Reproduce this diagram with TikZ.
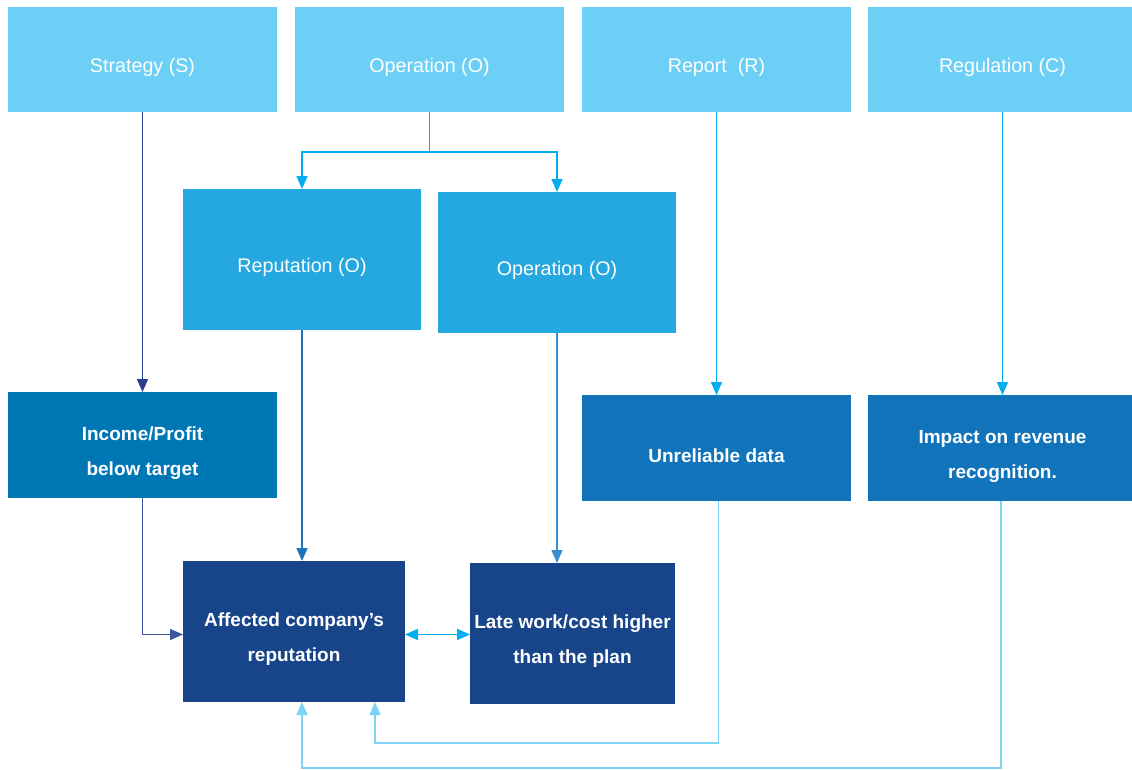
\documentclass[tikz,border=0pt]{standalone}
\usepackage{fontspec}
\setmainfont{Liberation Sans}
\usetikzlibrary{arrows.meta}
\definecolor{ctop}{HTML}{6CCFF6}
\definecolor{cmid}{HTML}{25A8E0}
\definecolor{cinc}{HTML}{0077B5}
\definecolor{cblue}{HTML}{1174BB}
\definecolor{cdark}{HTML}{18458A}
\definecolor{lnavy}{HTML}{2B3D8F}
\definecolor{lnavy2}{HTML}{3F55A0}
\definecolor{lcyan}{HTML}{00AEEF}
\definecolor{lmid}{HTML}{1B75BC}
\definecolor{lmid2}{HTML}{3A8ED0}
\definecolor{llight}{HTML}{7DD3F7}
\tikzset{
  box/.style={rectangle, inner sep=0pt, outer sep=0pt, anchor=north west},
  lbl/.style={text=white, align=center, yshift=-8pt, inner sep=0pt,
    font=\fontsize{19.7}{35}\selectfont},
  lblb/.style={lbl, font=\fontsize{19}{35}\selectfont\bfseries},
  topbox/.style={box, fill=ctop, minimum width=269pt, minimum height=105pt},
  midbox/.style={box, fill=cmid, minimum width=238pt, minimum height=141pt},
  incbox/.style={box, fill=cinc, minimum width=269pt, minimum height=106pt},
  bluebox/.style={box, fill=cblue, minimum width=269pt, minimum height=106pt},
  darkbox/.style={box, fill=cdark, minimum height=141pt},
  conn/.style={line width=1.5pt, -{Triangle[length=13pt,width=11pt]}},
  conn2/.style={line width=1.5pt, {Triangle[length=13pt,width=11pt]}-{Triangle[length=13pt,width=11pt]}},
}
\begin{document}
\begin{tikzpicture}[x=1pt,y=-1pt]
\useasboundingbox[fill=white] (0,0) rectangle (1132,769);
% top row
\node[topbox, label={[lbl]center:Strategy (S)}] (S) at (8,7) {};
\node[topbox, label={[lbl]center:Operation (O)}] (O) at (295,7) {};
\node[topbox, label={[lbl]center:Report\ \ (R)}] (Rp) at (582,7) {};
\node[topbox, label={[lbl]center:Regulation (C)}] (C) at (868,7) {};
% middle
\node[midbox, label={[lbl]center:Reputation (O)}] (Rep) at (183,189) {};
\node[midbox, label={[lbl]center:Operation (O)}] (O2) at (438,192) {};
% third row
\node[incbox, label={[lblb]center:Income/Profit\\below target}] (I) at (8,392) {};
\node[bluebox, label={[lblb]center:Unreliable data}] (U) at (582,395) {};
\node[bluebox, label={[lblb]center:Impact on revenue\\recognition.}] (Im) at (868,395) {};
% bottom
\node[darkbox, minimum width=222pt, label={[lblb]center:Affected company’s\\reputation}] (A) at (183,561) {};
\node[darkbox, minimum width=205pt, label={[lblb]center:Late work/cost higher\\than the plan}] (L) at (470,563) {};
% connectors
\draw[conn, lnavy] (S.south) -- (I.north);
\draw[conn, lcyan] (O.south) -- ++(0,40) -| (Rep.north);
\draw[conn, lcyan] (O.south) -- ++(0,40) -| (O2.north);
\draw[conn, lcyan] (Rp.south) -- (U.north);
\draw[conn, lcyan] (C.south) -- (Im.north);
\draw[conn, lmid] (Rep.south) -- (Rep.south |- A.north);
\draw[conn, lmid2] (O2.south) -- (O2.south |- L.north);
\draw[conn, lnavy2] (I.south) |- ([yshift=-3pt]A.west);
\draw[conn2, lcyan] ([yshift=-3pt]A.east) -- ([yshift=-3pt]A.east -| L.west);
\draw[conn, llight] ([xshift=2pt]U.south) -- ++(0,242) -| ([xshift=81pt]A.south);
\draw[conn, llight] ([xshift=-1.5pt]Im.south) -- ++(0,267) -| ([xshift=8pt]A.south);
\end{tikzpicture}
\end{document}
